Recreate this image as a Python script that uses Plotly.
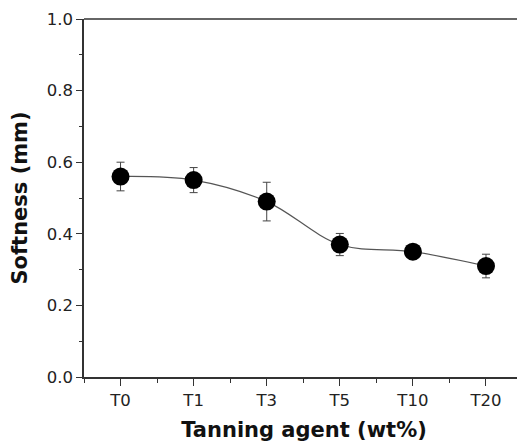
import plotly.graph_objects as go

categories = ["T0", "T1", "T3", "T5", "T10", "T20"]
softness = [0.56, 0.55, 0.49, 0.37, 0.35, 0.31]
errors = [0.04, 0.035, 0.054, 0.031, 0.02, 0.033]
y_ticks = [0.0, 0.2, 0.4, 0.6, 0.8, 1.0]
y_ticklabels = ["0.0", "0.2", "0.4", "0.6", "0.8", "1.0"]

xpos = list(range(len(categories)))
axis_col = "#333333"
tick_font = "DejaVu Sans, Liberation Sans, Arial, sans-serif"
title_font = "DejaVu Sans, Liberation Sans, Arial, sans-serif"

fig = go.Figure()
fig.add_trace(go.Scatter(
    x=xpos, y=softness,
    mode="lines+markers",
    line=dict(color="#555555", width=1.2, shape="spline", smoothing=1.0),
    marker=dict(color="black", size=18),
    error_y=dict(type="data", array=errors, visible=True, color="#444444",
                 thickness=1, width=4),
    showlegend=False,
))

# page body has an 8px default margin, so the figure is 8px smaller
fig.update_layout(
    width=517, height=435,
    margin=dict(l=76, r=1, t=11, b=66),
    paper_bgcolor="white", plot_bgcolor="white",
    font=dict(family=tick_font, color="#222222"),
    xaxis=dict(
        range=[-0.5, 5.52],
        automargin=False,
        tickmode="array", tickvals=xpos, ticktext=categories,
        ticks="outside", ticklen=7, tickwidth=1.2, tickcolor=axis_col,
        showline=True, linecolor=axis_col, linewidth=1.5,
        showgrid=False, zeroline=False,
        tickfont=dict(family=tick_font, size=16.5, color="#222222"),
        minor=dict(tickmode="linear", tick0=0.5, dtick=1, ticks="outside",
                   ticklen=4, tickwidth=1, tickcolor=axis_col, showgrid=False),
        title=dict(text="<b>Tanning agent (wt%)</b>",
                   font=dict(family=title_font, size=21, color="#111111"),
                   standoff=14),
    ),
    yaxis=dict(
        range=[0, 1.0],
        automargin=False,
        tickmode="array", tickvals=y_ticks, ticktext=y_ticklabels,
        ticks="outside", ticklen=6, tickwidth=1.2, tickcolor=axis_col,
        showline=True, linecolor=axis_col, linewidth=1.5,
        showgrid=False, zeroline=False,
        tickfont=dict(family=tick_font, size=16.5, color="#222222"),
        minor=dict(tickmode="linear", tick0=0.1, dtick=0.2, ticks="outside",
                   ticklen=3, tickwidth=1, tickcolor=axis_col, showgrid=False),
        title=dict(text="<b>Softness (mm)</b>",
                   font=dict(family=title_font, size=21, color="#111111"),
                   standoff=14),
    ),
    shapes=[dict(type="line", xref="paper", yref="paper", x0=0, x1=1, y0=1, y1=1,
                 line=dict(color=axis_col, width=1.5))],
)

fig.write_html("out.html")
